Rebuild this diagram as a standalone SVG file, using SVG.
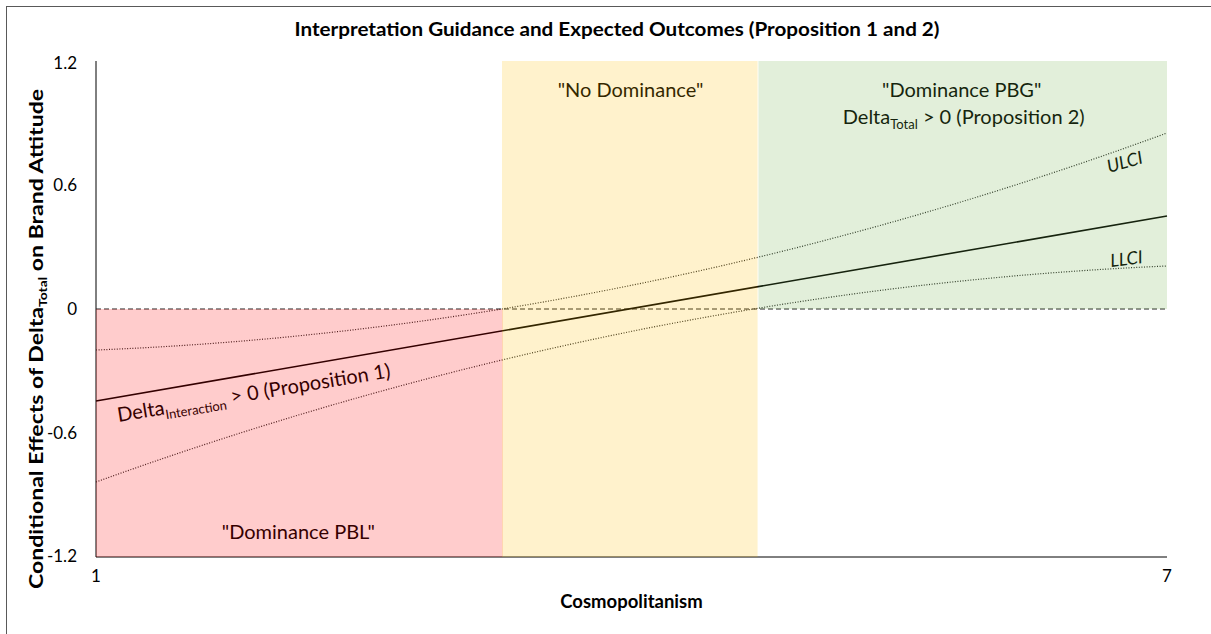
<svg xmlns="http://www.w3.org/2000/svg" width="1211" height="634" viewBox="0 0 1211 634">
  <style>
    .t { font-family: Lato, "Open Sans", "Liberation Sans", sans-serif; fill: #000; }
    .b { font-weight: bold; }
    .tick { font-size: 17px; }
    .lbl { font-size: 20px; }
    .ci { font-size: 18px; font-style: italic; }
    .dot { fill: none; stroke: #262626; stroke-width: 1.2; stroke-dasharray: 1 1.6; }
    .axis { stroke: #000; stroke-width: 1; fill: none; }
    .ov { fill-opacity: 0.2; stroke: none; }
  </style>
  <rect x="0" y="0" width="1211" height="634" fill="#fff"/>
  <rect x="6.5" y="6.5" width="1230" height="650" fill="none" stroke="#595959" stroke-width="1"/>

  <g id="title">
    <text class="t b" x="617" y="36" font-size="18.5" text-anchor="middle" textLength="645" lengthAdjust="spacingAndGlyphs">Interpretation Guidance and Expected Outcomes (Proposition 1 and 2)</text>
  </g>

  <g id="axes">
    <line class="axis" x1="96" y1="61" x2="96" y2="557"/>
    <line class="axis" x1="96" y1="557" x2="1167" y2="557"/>
    <g class="t tick" text-anchor="end">
      <text x="77" y="69">1.2</text>
      <text x="77" y="191">0.6</text>
      <text x="77" y="315">0</text>
      <text x="77" y="439">-0.6</text>
      <text x="77" y="562">-1.2</text>
    </g>
    <g class="t tick" text-anchor="middle">
      <text x="96" y="582">1</text>
      <text x="1167" y="582">7</text>
    </g>
    <text class="t b" x="631.5" y="608" font-size="18.5" text-anchor="middle">Cosmopolitanism</text>
    <text class="t b" font-size="19" text-anchor="middle" textLength="500" lengthAdjust="spacingAndGlyphs" transform="translate(43,339) rotate(-90)">Conditional Effects of Delta<tspan font-size="11.5" dy="4">Total</tspan><tspan dy="-4"> on Brand Attitude</tspan></text>
  </g>

  <g id="connectors">
    <line x1="96" y1="309" x2="1167" y2="309" stroke="#222" stroke-width="1" stroke-dasharray="5 3"/>
    <path class="dot" d="M96,350 Q631.5,329.1 1167,133"/>
    <path class="dot" d="M96,482 Q631.5,288.75 1167,266"/>
    <line x1="96" y1="401" x2="1167" y2="216" stroke="#000" stroke-width="1.6"/>
  </g>

  <g id="labels">
    <text class="t lbl" x="630.5" y="97" text-anchor="middle">"No Dominance"</text>
    <text class="t lbl" x="961.7" y="97" text-anchor="middle">"Dominance PBG"</text>
    <text class="t lbl" x="963.7" y="124" text-anchor="middle">Delta<tspan font-size="13" dy="5">Total</tspan><tspan dy="-5"> &gt; 0 (Proposition 2)</tspan></text>
    <text class="t lbl" x="298.3" y="539" text-anchor="middle">"Dominance PBL"</text>
    <text class="t lbl" transform="translate(118.5,422) rotate(-9.3)">Delta<tspan font-size="13" dy="5">Interaction</tspan><tspan dy="-5"> &gt; 0 (Proposition 1)</tspan></text>
    <text class="t ci" transform="translate(1109,173) rotate(-16)">ULCI</text>
    <text class="t ci" transform="translate(1111,267) rotate(-7)">LLCI</text>
  </g>

  <g id="region-pbl">
    <rect class="ov" x="96" y="309" width="406.7" height="248" fill="#FF0000"/>
  </g>
  <g id="region-none">
    <rect class="ov" x="502" y="61" width="255.6" height="496" fill="#FFC000"/>
  </g>
  <g id="region-pbg">
    <rect class="ov" x="758.4" y="61" width="408.6" height="248" fill="#70AD47"/>
  </g>
</svg>
